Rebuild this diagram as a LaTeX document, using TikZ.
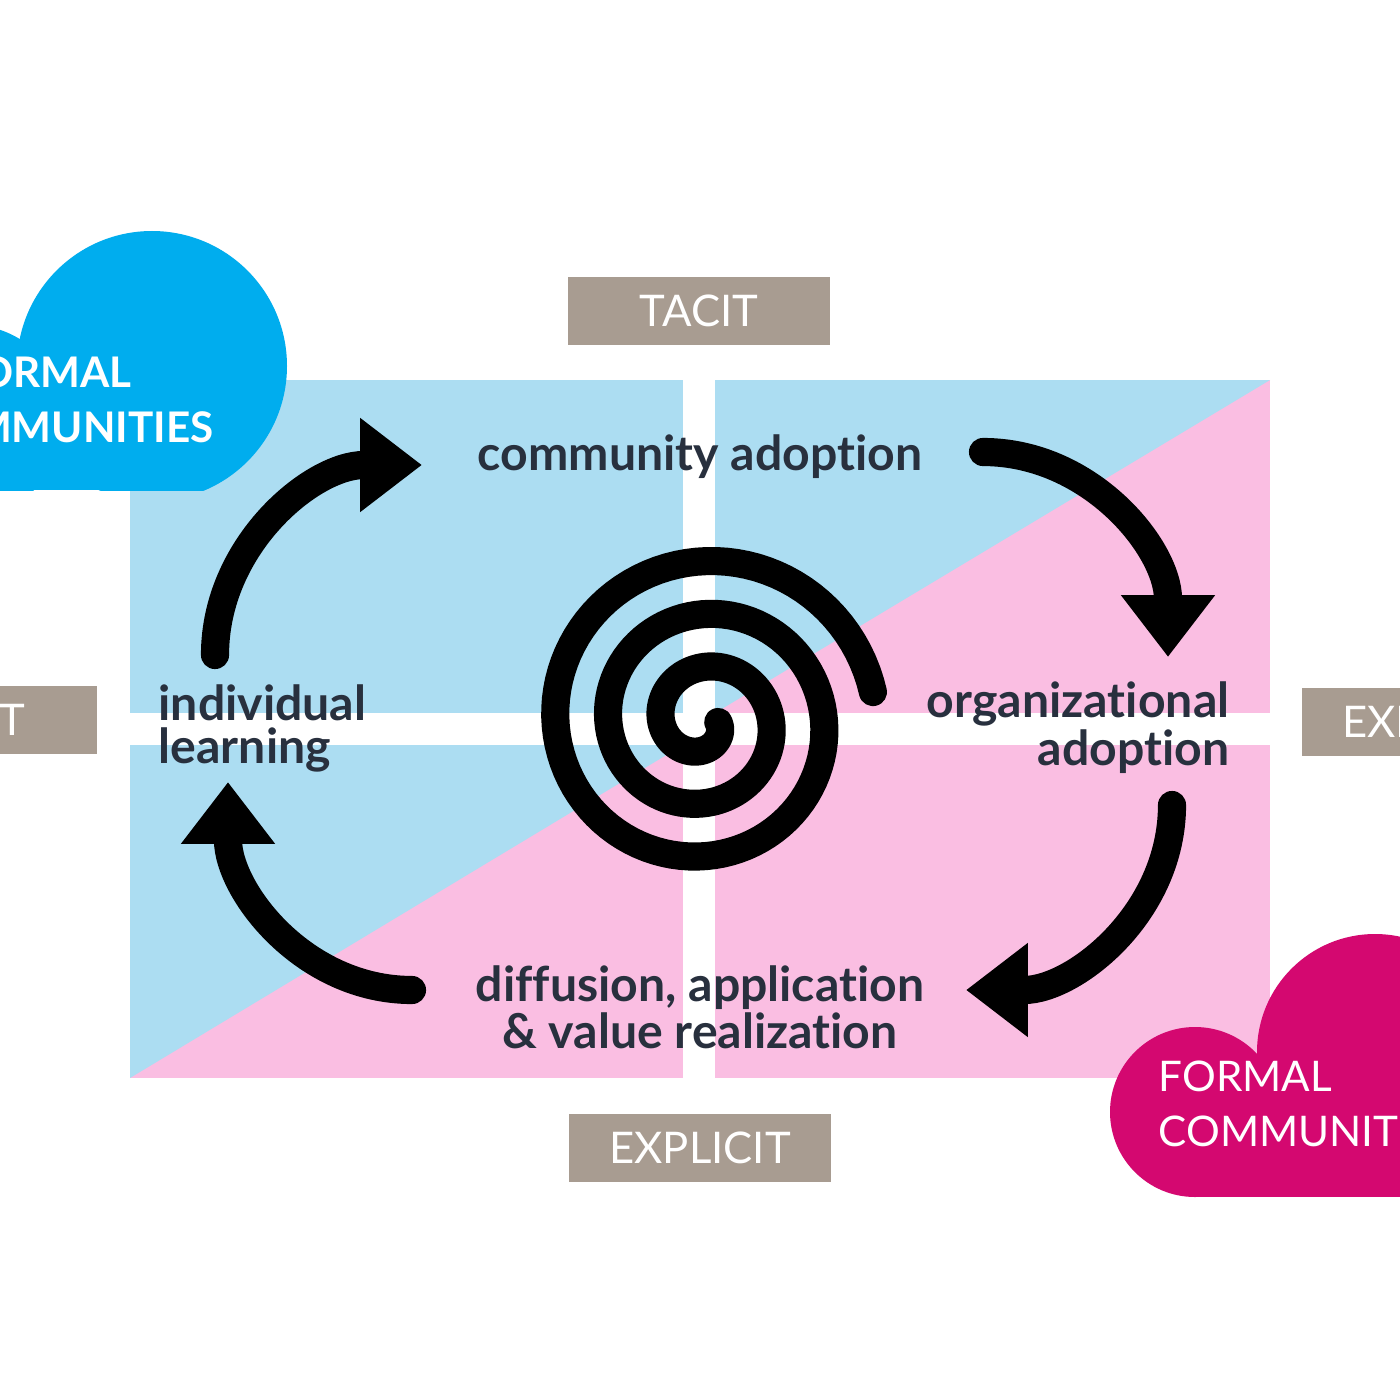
\documentclass[tikz,border=0pt]{standalone}
\usepackage{fontspec}
\setmainfont{Lato}[Ligatures=NoCommon]
\usetikzlibrary{arrows.meta}
\definecolor{quadblue}{RGB}{172,221,242}
\definecolor{quadpink}{RGB}{250,190,226}
\definecolor{cloudblue}{RGB}{0,173,238}
\definecolor{cloudpink}{RGB}{212,8,112}
\definecolor{axisgrey}{RGB}{168,156,145}
\definecolor{inkgrey}{RGB}{40,48,62}
\begin{document}
\begin{tikzpicture}
	[x=0.01cm,y=0.01cm,
	axisbox/.style={fill=axisgrey,text=white,inner sep=0pt,
minimum width=2.62cm,minimum height=0.68cm,font=\fontsize{12.4}{14}\selectfont},
	maintext/.style={text=inkgrey,inner sep=0pt,font=\bfseries\fontsize{13.7}{12.2}\selectfont},
	cloudtext/.style={text=white,inner sep=0pt,align=left,anchor=west,font=\fontsize{12}{15.6}\selectfont},
	looparrow/.style={line width=8pt,line cap=round,-{Triangle[length=17.6pt,width=25.6pt]}},
	coil/.style={line width=8pt,line cap=round,line join=round}]
	\useasboundingbox (0,0) rectangle (1400,-1400);
	\clip (0,0) rectangle (1400,-1400);
	\fill[white] (0,0) rectangle (1400,-1400);
	% quadrants
	\fill[quadblue] (130,-380) rectangle (683,-713);
	\fill[quadpink] (715,-380) rectangle (1270,-713);
	\fill[quadblue] (715,-380) -- (1270,-380) -- (715,-713) -- cycle;
	\fill[quadpink] (130,-745) rectangle (683,-1078);
	\fill[quadblue] (130,-745) -- (683,-745) -- (130,-1078) -- cycle;
	\fill[quadpink] (715,-745) rectangle (1270,-1078);
	% clouds
	\begin{scope}
		\clip (-200,0) rectangle (400,-490);
		\fill[cloudblue] (152,-366) circle [radius=135];
		\fill[cloudblue] (-30,-420) circle [radius=95];
		\fill[cloudblue] (-100,-400) rectangle (152,-490);
	\end{scope}
	\begin{scope}
		\clip (1000,-900) rectangle (1500,-1197);
		\fill[cloudpink] (1375,-1052) circle [radius=118];
		\fill[cloudpink] (1195,-1112) circle [radius=85];
		\fill[cloudpink] (1195,-1112) rectangle (1500,-1197);
	\end{scope}
	\node at (-90,-400) (informal) [cloudtext,font=\bfseries\fontsize{12}{15.6}\selectfont] {INFORMAL\\COMMUNITIES};
	\node at (1158,-1104) (formal) [cloudtext] {FORMAL\\COMMUNITIES};
	% axis labels
	\node at (699,-311) (tacittop) [axisbox] {TACIT};
	\node at (700,-1148) (explicitbot) [axisbox] {EXPLICIT};
	\node at (-34,-720) (tacitleft) [axisbox] {TACIT};
	\node at (1433,-722) (explicitright) [axisbox] {EXPLICIT};
	% stages
	\node at (700,-457) (community) [maintext] {community adoption};
	\node at (158,-728) (individual) [maintext,align=left,anchor=west] {individual\\learning};
	\node at (1230,-728) (organizational) [maintext,align=right,anchor=east] {organizational\\adoption};
	\node at (700,-1007) (diffusion) [maintext,align=center] {diffusion, application\\\& value realization};
	% cycle
	\coordinate (t1) at (215,-655);
	\coordinate (h1) at (422,-465);
	\coordinate (t2) at (983,-452);
	\coordinate (h2) at (1168,-657);
	\coordinate (t3) at (1172,-805);
	\coordinate (h3) at (966,-990);
	\coordinate (t4) at (412,-990);
	\coordinate (h4) at (228,-782);
	\draw[looparrow] (t1) to[out=90,in=180] (h1);
	\draw[looparrow] (t2) to[out=0,in=90] (h2);
	\draw[looparrow] (t3) to[out=-90,in=0] (h3);
	\draw[looparrow] (t4) to[out=180,in=-90] (h4);
	% spiral
	\draw[coil] plot[domain=10:1080,samples=300] ({703+(174-0.147*\x)*cos(\x)},{-722+(174-0.147*\x)*sin(\x)});
\end{tikzpicture}
\end{document}
